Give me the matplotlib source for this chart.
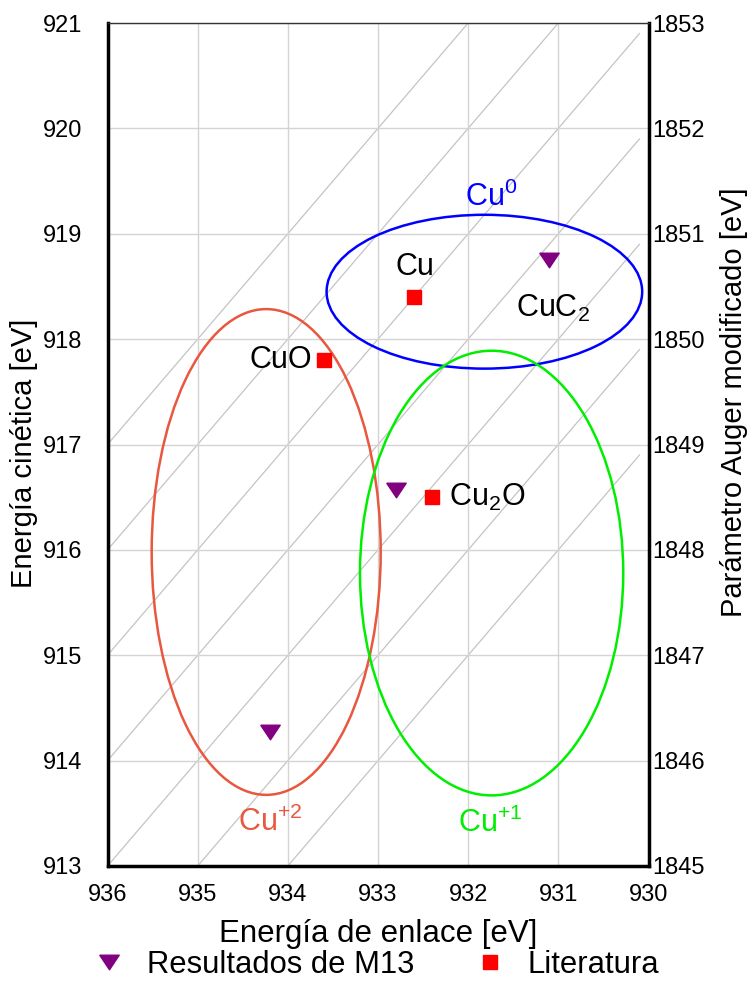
import matplotlib
matplotlib.use("Agg")
import matplotlib.pyplot as plt
from matplotlib.patches import Ellipse
import numpy as np

plt.rcParams['font.family'] = ['Liberation Sans', 'DejaVu Sans']
plt.rcParams['mathtext.fontset'] = 'custom'
plt.rcParams['mathtext.rm'] = 'Liberation Sans'
plt.rcParams['mathtext.it'] = 'Liberation Sans'

# ---- data ----
m13_be = [931.1, 932.8, 934.2]
m13_ke = [918.75, 916.57, 914.27]

lit_names = ['Cu', 'CuO', 'Cu$_2$O']
lit_be = [932.6, 933.6, 932.4]
lit_ke = [918.4, 917.8, 916.5]

region_names = ['Cu$^0$', 'Cu$^{+2}$', 'Cu$^{+1}$']
region_colors = ['#0000FF', '#E8573E', '#00EE00']
region_cx = [931.82, 934.24, 931.74]
region_cy = [918.45, 915.98, 915.78]
region_w = [3.50, 2.54, 2.92]
region_h = [1.46, 4.61, 4.22]

auger_sums = [1847, 1848, 1849, 1850, 1851, 1852, 1853]
x_ticks = [936, 935, 934, 933, 932, 931, 930]
y_ticks = [913, 914, 915, 916, 917, 918, 919, 920, 921]
y2_ticks = [1845, 1846, 1847, 1848, 1849, 1850, 1851, 1852, 1853]

# ---- figure ----
W, H = 749, 983
fig = plt.figure(figsize=(W / 100, H / 100), dpi=100)
L, R, T, B = 107.5, 648.5, 23, 866
ax = fig.add_axes([L / W, 1 - B / H, (R - L) / W, (B - T) / H])

ax.set_xlim(936, 930)
ax.set_ylim(913, 921)
ax.set_xticks(x_ticks)
ax.set_yticks(y_ticks)
ax.grid(True, color='#D4D4D4', lw=1.0, zorder=0)
ax.tick_params(axis='y', length=0, labelsize=17, pad=18)
ax.tick_params(axis='x', length=0, labelsize=17, pad=13)

# Auger parameter diagonal lines
be_line = np.array([936.0, 930.1])
for s in auger_sums:
    ax.plot(be_line, s - be_line, color='#C4C4C4', lw=0.9, zorder=1)

# region ellipses
for name, c, cx, cy, w, h in zip(region_names, region_colors, region_cx, region_cy, region_w, region_h):
    ax.add_patch(Ellipse((cx, cy), w, h, fill=False, ec=c, lw=1.8, zorder=3))

tri = [(-1, 0.75), (1, 0.75), (0, -0.75), (-1, 0.75)]
h1, = ax.plot(m13_be, m13_ke, linestyle='none', marker=tri, ms=14, color='#800080',
              label='Resultados de M13', zorder=5)
h2, = ax.plot(lit_be, lit_ke, linestyle='none', marker='s', ms=9.5, color='#FF0000',
              label='Literatura', zorder=5)

fs = 22
# point labels
ax.text(932.59, 918.61, lit_names[0], fontsize=fs, ha='center', va='baseline', zorder=6)
ax.text(933.73, 917.73, lit_names[1], fontsize=fs, ha='right', va='baseline', zorder=6)
ax.text(932.21, 916.42, lit_names[2], fontsize=fs, ha='left', va='baseline', zorder=6)
ax.text(931.47, 918.21, 'CuC$_2$', fontsize=fs, ha='left', va='baseline', zorder=6)
# region labels
ax.text(932.03, 919.26, region_names[0], color=region_colors[0], fontsize=fs, ha='left', va='baseline')
ax.text(934.55, 913.33, region_names[1], color=region_colors[1], fontsize=fs, ha='left', va='baseline')
ax.text(932.11, 913.32, region_names[2], color=region_colors[2], fontsize=fs, ha='left', va='baseline')

# spines
for side in ['left', 'bottom', 'right']:
    ax.spines[side].set_linewidth(2.5)
    ax.spines[side].set_color('black')
ax.spines['top'].set_linewidth(1.0)
ax.spines['top'].set_color('#333333')

# right axis
ax2 = ax.twinx()
ax2.set_ylim(1845, 1853)
ax2.set_yticks(y2_ticks)
ax2.tick_params(length=0, labelsize=17, pad=2.5)
for sp in ax2.spines.values():
    sp.set_visible(False)

ax.set_xlabel('Energía de enlace [eV]', fontsize=22.5, labelpad=9)
ax.set_ylabel('Energía cinética [eV]', fontsize=21)
ax.yaxis.set_label_coords(-0.128, 0.49)
ax2.set_ylabel('Parámetro Auger modificado [eV]', fontsize=21)
ax2.yaxis.set_label_coords(1.133, 0.55)

fig.legend([h1, h2], ['Resultados de M13', 'Literatura'], loc='center',
           bbox_to_anchor=(372.7 / W, 1 - 965 / H), ncol=2, frameon=False, fontsize=22.3,
           handletextpad=0.46, columnspacing=1.7, borderpad=0, handlelength=1.5)

fig.savefig('out.png', dpi=100)
